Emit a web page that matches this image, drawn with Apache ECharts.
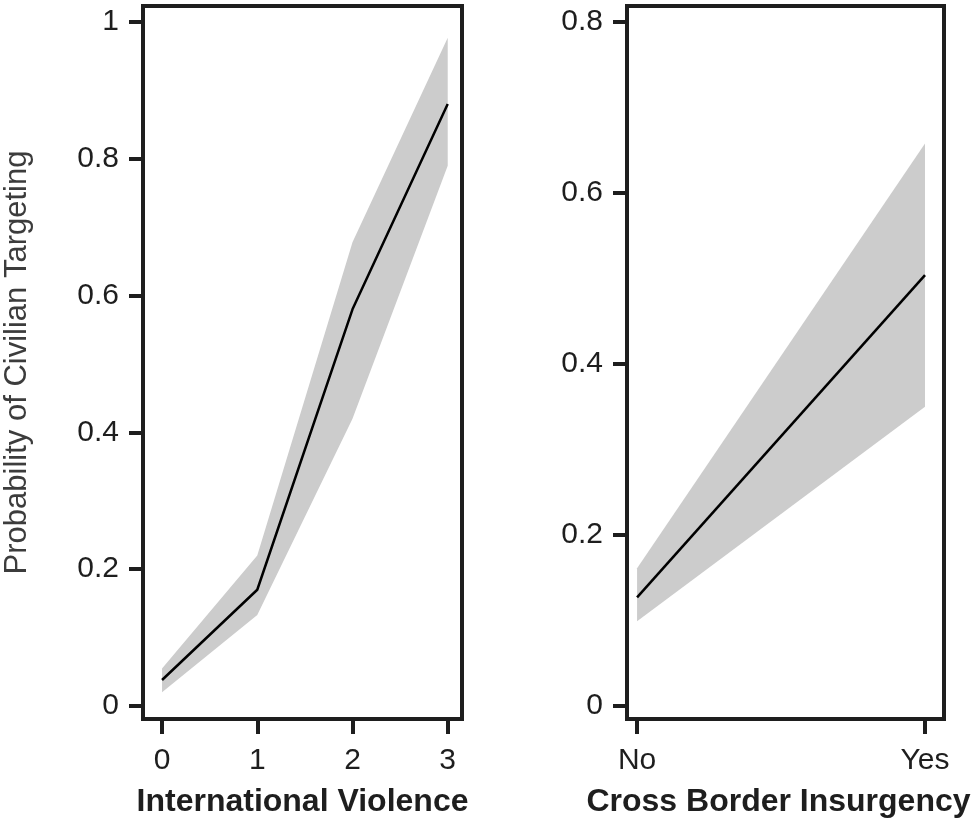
<!DOCTYPE html>
<html>
<head>
<meta charset="utf-8">
<title>Probability of Civilian Targeting</title>
<script src="https://cdn.jsdelivr.net/npm/echarts@6.0.0/dist/echarts.min.js"></script>
<style>
  html, body { margin: 0; padding: 0; background: #fff; }
  #chart { width: 974px; height: 818px; }
</style>
</head>
<body>
<div id="chart"></div>
<script>
// left panel: international violence
const ivX = [0, 1, 2, 3]
const ivFit = [0.038, 0.17, 0.58, 0.88]
const ivLower = [0.02, 0.133, 0.42, 0.79]
const ivUpper = [0.055, 0.22, 0.678, 0.977]
const ivYTicks = [0, 0.2, 0.4, 0.6, 0.8, 1]

// right panel: cross border insurgency
const cbCats = ['No', 'Yes']
const cbFit = [0.127, 0.504]
const cbLower = [0.099, 0.35]
const cbUpper = [0.161, 0.658]
const cbYTicks = [0, 0.2, 0.4, 0.6, 0.8]

const font = '"Liberation Sans", Arial, Helvetica, sans-serif'
const inkColor = '#1e1e1e'
const bandColor = '#cccccc'

const chart = echarts.init(document.getElementById('chart'), null, { renderer: 'canvas' })

function xAxisFor(gridIndex, min, max, ticks, labels, name, namePad) {
  return {
    type: 'value',
    gridIndex: gridIndex,
    min: min,
    max: max,
    name: name,
    nameLocation: 'middle',
    nameGap: 67,
    nameTextStyle: {
      fontFamily: font,
      fontSize: 32,
      fontWeight: 'bold',
      color: inkColor,
      padding: namePad || 0
    },
    axisLine: { show: false, onZero: false },
    splitLine: { show: false },
    axisTick: {
      show: true,
      inside: false,
      length: 15,
      customValues: ticks,
      lineStyle: { color: inkColor, width: 4 }
    },
    axisLabel: {
      customValues: ticks,
      margin: 27,
      fontFamily: font,
      fontSize: 30,
      color: inkColor,
      formatter: function (v) {
        const i = ticks.indexOf(v)
        return labels ? labels[i] : String(v)
      }
    }
  }
}

function yAxisFor(gridIndex, min, max, ticks, name) {
  return {
    type: 'value',
    gridIndex: gridIndex,
    min: min,
    max: max,
    name: name,
    nameLocation: 'middle',
    nameRotate: 90,
    nameGap: 110,
    nameTextStyle: {
      fontFamily: font,
      fontSize: 31,
      color: '#3c3c3c'
    },
    axisLine: { show: false, onZero: false },
    splitLine: { show: false },
    axisTick: {
      show: true,
      inside: false,
      length: 14,
      customValues: ticks,
      lineStyle: { color: inkColor, width: 4 }
    },
    axisLabel: {
      customValues: ticks,
      margin: 24,
      fontFamily: font,
      fontSize: 30,
      color: inkColor,
      formatter: function (v) { return String(+v.toFixed(1)) }
    }
  }
}

// confidence band: one polygon, upper edge then lower edge backwards
function bandSeries(idx, xs, lower, upper) {
  return {
    type: 'custom',
    xAxisIndex: idx,
    yAxisIndex: idx,
    silent: true,
    data: xs.map((x, i) => [x, lower[i], upper[i]]),
    encode: { x: 0, y: [1, 2] },
    renderItem: function (params, api) {
      if (params.dataIndex !== 0) return
      const pts = []
      xs.forEach((x, i) => pts.push(api.coord([x, upper[i]])))
      for (let i = xs.length - 1; i >= 0; i--) pts.push(api.coord([xs[i], lower[i]]))
      return {
        type: 'polygon',
        shape: { points: pts },
        style: { fill: bandColor, stroke: null }
      }
    },
    z: 1
  }
}

function fitSeries(idx, xs, fit) {
  return {
    type: 'line',
    xAxisIndex: idx,
    yAxisIndex: idx,
    symbol: 'none',
    silent: true,
    data: xs.map((x, i) => [x, fit[i]]),
    lineStyle: { color: '#000', width: 2.5 },
    z: 5
  }
}

const cbX = cbCats.map((c, i) => i)

const gridBase = {
  top: 6,
  bottom: 99,
  show: true,
  borderColor: inkColor,
  borderWidth: 4,
  backgroundColor: 'transparent',
  containLabel: false,
  outerBoundsMode: 'none',
  z: 10
}

chart.setOption({
  animation: false,
  backgroundColor: '#fff',
  grid: [
    Object.assign({ left: 143, right: 512 }, gridBase),
    Object.assign({ left: 627, right: 30 }, gridBase)
  ],
  xAxis: [
    xAxisFor(0, -0.2, 3.15, ivX, null, 'International Violence'),
    // title sits a little left of the panel centre, as in the original
    xAxisFor(1, -0.035, 1.066, cbX, cbCats, 'Cross Border Insurgency', [0, 14, 0, 0])
  ],
  yAxis: [
    yAxisFor(0, -0.019, 1.0234, ivYTicks, 'Probability of Civilian Targeting'),
    yAxisFor(1, -0.0152, 0.8187, cbYTicks, '')
  ],
  series: [
    bandSeries(0, ivX, ivLower, ivUpper),
    fitSeries(0, ivX, ivFit),
    bandSeries(1, cbX, cbLower, cbUpper),
    fitSeries(1, cbX, cbFit)
  ]
})
</script>
</body>
</html>
